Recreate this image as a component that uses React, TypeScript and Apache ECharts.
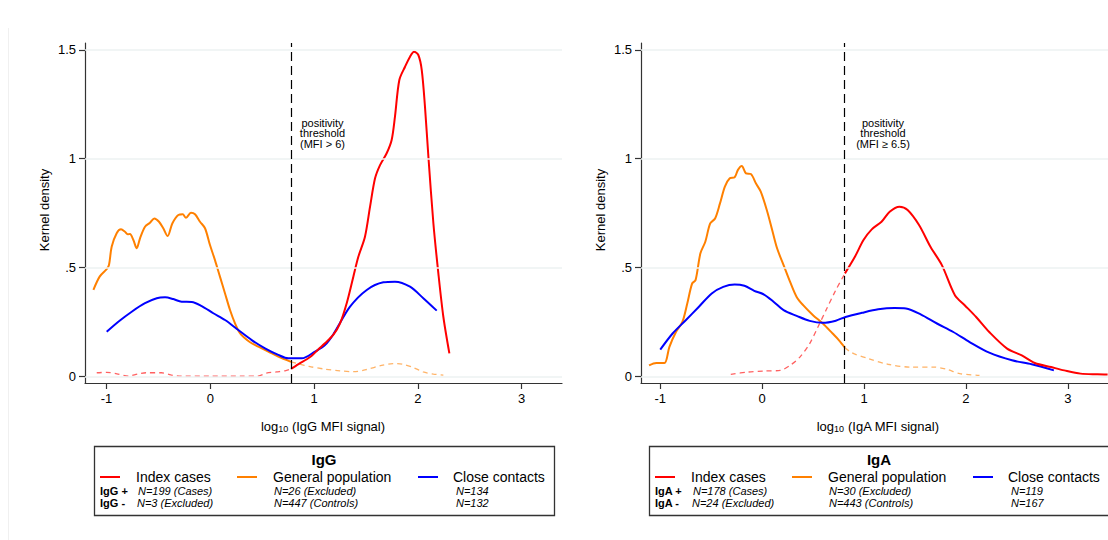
import React, { useEffect, useRef } from "react";
import * as echarts from "echarts";

// ---------- tick labels ----------
const xTicks = [-1, 0, 1, 2, 3];
const yTicks = [0, 0.5, 1, 1.5];
const yTickLabels = ["0", ".5", "1", "1.5"];

// ---------- thresholds (log10 MFI) ----------
const thrIgG = Math.log10(6);
const thrIgA = Math.log10(6.5);

// ---------- legend texts ----------
const groups = ["Index cases", "General population", "Close contacts"];
const iggPos = ["N=199 (Cases)", "N=26 (Excluded)", "N=134"];
const iggNeg = ["N=3 (Excluded)", "N=447 (Controls)", "N=132"];
const igaPos = ["N=178 (Cases)", "N=30 (Excluded)", "N=119"];
const igaNeg = ["N=24 (Excluded)", "N=443 (Controls)", "N=167"];

// ---------- IgG densities ----------
const iggIndexSolid = [[0.778,0.036],[0.85,0.058],[0.93,0.08],[0.98,0.097],[1.04,0.125],[1.105,0.153],[1.186,0.193],[1.25,0.245],[1.314,0.337],[1.378,0.459],[1.426,0.55],[1.49,0.642],[1.539,0.78],[1.587,0.91],[1.635,0.971],[1.699,1.025],[1.747,1.086],[1.779,1.193],[1.821,1.361],[1.876,1.422],[1.924,1.468],[1.962,1.491],[2.004,1.476],[2.037,1.407],[2.068,1.239],[2.101,1.009],[2.149,0.704],[2.197,0.474],[2.245,0.275],[2.303,0.107]];
const iggIndexDash = [[-1.094,0.018],[-1.0,0.02],[-0.9,0.013],[-0.79,0.003],[-0.7,0.012],[-0.62,0.018],[-0.47,0.018],[-0.38,0.008],[-0.3,0.003],[0.0,0.002],[0.3,0.002],[0.46,0.003],[0.54,0.016],[0.64,0.022],[0.72,0.027],[0.778,0.036]];
const iggGenSolid = [[-1.126,0.398],[-1.066,0.459],[-0.998,0.493],[-0.976,0.512],[-0.95,0.596],[-0.902,0.658],[-0.86,0.676],[-0.822,0.665],[-0.796,0.653],[-0.774,0.655],[-0.741,0.627],[-0.709,0.589],[-0.677,0.635],[-0.629,0.688],[-0.581,0.706],[-0.539,0.726],[-0.494,0.711],[-0.453,0.681],[-0.411,0.645],[-0.366,0.703],[-0.308,0.742],[-0.266,0.745],[-0.234,0.729],[-0.186,0.752],[-0.147,0.745],[-0.099,0.711],[-0.051,0.681],[-0.003,0.604],[0.045,0.535],[0.093,0.459],[0.142,0.382],[0.19,0.306],[0.238,0.245],[0.286,0.199],[0.334,0.176],[0.383,0.158],[0.463,0.138],[0.559,0.115],[0.655,0.092],[0.778,0.068]];
const iggGenDash = [[0.778,0.068],[0.86,0.058],[0.95,0.047],[1.1,0.035],[1.25,0.027],[1.38,0.023],[1.5,0.032],[1.65,0.052],[1.76,0.06],[1.85,0.057],[1.95,0.043],[2.05,0.022],[2.15,0.012],[2.245,0.007]];
const iggClose = [[-0.998,0.206],[-0.886,0.252],[-0.757,0.298],[-0.629,0.337],[-0.516,0.36],[-0.436,0.364],[-0.356,0.356],[-0.276,0.344],[-0.179,0.343],[-0.083,0.324],[0.029,0.291],[0.142,0.26],[0.27,0.214],[0.399,0.168],[0.527,0.13],[0.655,0.1],[0.751,0.084],[0.881,0.084],[1.009,0.115],[1.105,0.145],[1.186,0.195],[1.346,0.321],[1.507,0.398],[1.667,0.433],[1.779,0.436],[1.924,0.413],[2.052,0.36],[2.181,0.303]];

// ---------- IgA densities ----------
const igaIndexSolid = [[0.813,0.474],[0.915,0.554],[0.995,0.627],[1.076,0.676],[1.172,0.711],[1.252,0.757],[1.348,0.78],[1.428,0.765],[1.54,0.696],[1.652,0.596],[1.764,0.512],[1.892,0.374],[1.988,0.328],[2.1,0.274],[2.229,0.205],[2.404,0.129],[2.548,0.098],[2.676,0.063],[2.837,0.044],[2.965,0.029],[3.125,0.014],[3.29,0.011],[3.39,0.01]];
const igaIndexDash = [[-0.307,0.011],[-0.141,0.021],[0.019,0.026],[0.179,0.029],[0.275,0.052],[0.371,0.09],[0.467,0.152],[0.548,0.228],[0.627,0.305],[0.723,0.397],[0.813,0.474]];
const igaGenSolid = [[-1.109,0.052],[-1.038,0.063],[-0.958,0.063],[-0.91,0.136],[-0.845,0.205],[-0.782,0.251],[-0.734,0.336],[-0.686,0.428],[-0.653,0.443],[-0.605,0.566],[-0.557,0.619],[-0.509,0.703],[-0.461,0.726],[-0.413,0.795],[-0.365,0.872],[-0.317,0.91],[-0.269,0.915],[-0.237,0.949],[-0.199,0.967],[-0.158,0.933],[-0.11,0.93],[-0.061,0.887],[-0.013,0.849],[0.051,0.757],[0.099,0.673],[0.147,0.589],[0.211,0.512],[0.275,0.435],[0.339,0.366],[0.403,0.328],[0.5,0.282],[0.596,0.244],[0.692,0.198],[0.755,0.167],[0.813,0.133]];
const igaGenDash = [[0.813,0.133],[0.884,0.109],[1.043,0.083],[1.235,0.057],[1.46,0.044],[1.684,0.044],[1.812,0.034],[1.94,0.014],[2.133,0.006]];
const igaClose = [[-0.999,0.124],[-0.878,0.198],[-0.749,0.259],[-0.622,0.32],[-0.494,0.382],[-0.381,0.412],[-0.269,0.423],[-0.173,0.417],[-0.077,0.394],[0.019,0.377],[0.115,0.343],[0.211,0.305],[0.339,0.279],[0.467,0.256],[0.596,0.247],[0.723,0.257],[0.819,0.274],[0.98,0.293],[1.139,0.309],[1.3,0.315],[1.412,0.313],[1.556,0.286],[1.716,0.244],[1.876,0.205],[2.036,0.159],[2.229,0.11],[2.452,0.075],[2.645,0.057],[2.863,0.029]];

const RED = "#ff0000";
const ORANGE = "#ff8000";
const BLUE = "#0000ff";
const RED_D = "rgba(255,0,0,0.62)";
const ORANGE_D = "rgba(255,128,0,0.6)";
const FONT = "'Liberation Sans', Arial, Helvetica, sans-serif";

function line(name: string, data: number[][], idx: number, color: string, dashed: boolean, extra: any = {}) {
  return {
    type: "line",
    name,
    data,
    xAxisIndex: idx,
    yAxisIndex: idx,
    showSymbol: false,
    symbol: "none",
    smooth: 0.3,
    silent: true,
    z: dashed ? 3 : 4,
    lineStyle: dashed ? { color, width: 1.3, type: [5, 4] } : { color, width: 2 },
    ...extra,
  };
}

function gridSeries(idx: number) {
  return {
    type: "line",
    data: [],
    xAxisIndex: idx,
    yAxisIndex: idx,
    z: 1,
    silent: true,
    markLine: {
      silent: true,
      symbol: ["none", "none"],
      label: { show: false },
      lineStyle: { color: "#edf2f2", width: 1.5, type: "solid" },
      data: yTicks.map((v) => ({ yAxis: v })),
    },
  };
}

function thresholdMark(thr: number) {
  return {
    silent: true,
    symbol: ["none", "none"],
    label: { show: false },
    lineStyle: { color: "#000", width: 1.2, type: [9, 5] },
    data: [{ xAxis: thr }],
  };
}

function legendBox(x0: number, title: string, pos: string[], neg: string[]): any[] {
  const els: any[] = [];
  els.push({ type: "rect", shape: { x: x0 + 0.5, y: 446.5, width: 460, height: 69 }, style: { fill: "#fff", stroke: "#333", lineWidth: 1.3 } });
  els.push({ type: "text", style: { text: title, x: x0 + 230, y: 459, align: "center", verticalAlign: "middle", fontSize: 15, fontWeight: "bold", fontFamily: FONT, fill: "#000" } });
  const lineX = [6, 143, 324];
  const textX = [42, 179, 359];
  const nX = [44, 180, 362];
  const cols = [RED, ORANGE, BLUE];
  for (let i = 0; i < 3; i++) {
    els.push({ type: "line", shape: { x1: x0 + lineX[i], y1: 477, x2: x0 + lineX[i] + 20, y2: 477 }, style: { stroke: cols[i], lineWidth: 2 } });
    els.push({ type: "text", style: { text: groups[i], x: x0 + textX[i], y: 477, align: "left", verticalAlign: "middle", fontSize: 14, fontFamily: FONT, fill: "#000" } });
    els.push({ type: "text", style: { text: pos[i], x: x0 + nX[i], y: 491, align: "left", verticalAlign: "middle", fontSize: 11, fontStyle: "italic", fontFamily: FONT, fill: "#000" } });
    els.push({ type: "text", style: { text: neg[i], x: x0 + nX[i] - (i === 0 ? 1 : 0), y: 503, align: "left", verticalAlign: "middle", fontSize: 11, fontStyle: "italic", fontFamily: FONT, fill: "#000" } });
  }
  els.push({ type: "text", style: { text: title + " +", x: x0 + 6, y: 491, align: "left", verticalAlign: "middle", fontSize: 11, fontWeight: "bold", fontFamily: FONT, fill: "#000" } });
  els.push({ type: "text", style: { text: title + " -", x: x0 + 6, y: 503, align: "left", verticalAlign: "middle", fontSize: 11, fontWeight: "bold", fontFamily: FONT, fill: "#000" } });
  return els;
}

function xName(cx: number, ab: string) {
  return {
    type: "text",
    style: {
      text: "log{s|10} (" + ab + " MFI signal)",
      x: cx,
      y: 426,
      align: "center",
      verticalAlign: "middle",
      fontSize: 13,
      fontFamily: FONT,
      fill: "#000",
      rich: { s: { fontSize: 9, fontFamily: FONT, padding: [6, 0, 0, 0] } },
    },
  };
}

function annot(cx: number, label: string) {
  return {
    type: "text",
    style: {
      text: "positivity\nthreshold\n" + label,
      x: cx,
      y: 133,
      align: "center",
      verticalAlign: "middle",
      fontSize: 11,
      lineHeight: 10.5,
      fontFamily: FONT,
      fill: "#000",
    },
  };
}

export default function App() {
  const ref = useRef<HTMLDivElement>(null);
  useEffect(() => {
    if (!ref.current) return;
    const chart = echarts.init(ref.current, undefined, { renderer: "svg" });
    const xAxisBase = (gi: number) => ({
      type: "value",
      gridIndex: gi,
      min: -1.207,
      max: 3.388,
      axisLine: { show: true, onZero: false, lineStyle: { color: "#333", width: 1.2 } },
      axisTick: { show: true, length: 6, customValues: xTicks, lineStyle: { color: "#333", width: 1.2 } },
      axisLabel: { customValues: xTicks, margin: 9, fontSize: 13, fontFamily: FONT, color: "#000" },
      splitLine: { show: false },
    });
    const yAxisBase = (gi: number) => ({
      type: "value",
      gridIndex: gi,
      min: -0.029,
      max: 1.531,
      axisLine: { show: true, onZero: false, lineStyle: { color: "#333", width: 1.2 } },
      axisTick: { show: true, length: 6, customValues: yTicks, lineStyle: { color: "#333", width: 1.2 } },
      axisLabel: {
        customValues: yTicks,
        margin: 9,
        fontSize: 13,
        fontFamily: FONT,
        color: "#000",
        formatter: (v: number) => {
          const i = yTicks.findIndex((t) => Math.abs(t - v) < 1e-6);
          return i >= 0 ? yTickLabels[i] : "";
        },
      },
      splitLine: { show: false },
    });
    const option: any = {
      animation: false,
      backgroundColor: "#fff",
      grid: [
        { left: 85, top: 43, width: 477, height: 340 },
        { left: 641, top: 43, width: 477, height: 340 },
      ],
      xAxis: [xAxisBase(0), { ...xAxisBase(1), min: -1.188, max: 3.394 }],
      yAxis: [yAxisBase(0), yAxisBase(1)],
      series: [
        gridSeries(0),
        gridSeries(1),
        line("IgG index (neg)", iggIndexDash, 0, RED_D, true),
        line("IgG general (pos)", iggGenDash, 0, ORANGE_D, true),
        line("IgG general", iggGenSolid, 0, ORANGE, false),
        line("IgG close contacts", iggClose, 0, BLUE, false, { markLine: thresholdMark(thrIgG) }),
        line("IgG index", iggIndexSolid, 0, RED, false),
        line("IgA index (neg)", igaIndexDash, 1, RED_D, true),
        line("IgA general (pos)", igaGenDash, 1, ORANGE_D, true),
        line("IgA general", igaGenSolid, 1, ORANGE, false),
        line("IgA close contacts", igaClose, 1, BLUE, false, { markLine: thresholdMark(thrIgA) }),
        line("IgA index", igaIndexSolid, 1, RED, false),
      ],
      graphic: [
        { type: "line", shape: { x1: 8.5, y1: 28, x2: 8.5, y2: 540 }, style: { stroke: "#f0f0f0", lineWidth: 1 } },
        { type: "text", x: 44, y: 210, rotation: Math.PI / 2, style: { text: "Kernel density", align: "center", verticalAlign: "middle", fontSize: 13, fontFamily: FONT, fill: "#000" } },
        { type: "text", x: 600, y: 210, rotation: Math.PI / 2, style: { text: "Kernel density", align: "center", verticalAlign: "middle", fontSize: 13, fontFamily: FONT, fill: "#000" } },
        xName(323, "IgG"),
        xName(878, "IgA"),
        annot(322.5, "(MFI > 6)"),
        annot(883, "(MFI \u2265 6.5)"),
        ...legendBox(94, "IgG", iggPos, iggNeg),
        ...legendBox(649, "IgA", igaPos, igaNeg),
      ],
    };
    chart.setOption(option);
    return () => chart.dispose();
  }, []);
  return <div ref={ref} style={{ position: "absolute", left: 0, top: 0, width: 1108, height: 540 }} />;
}
